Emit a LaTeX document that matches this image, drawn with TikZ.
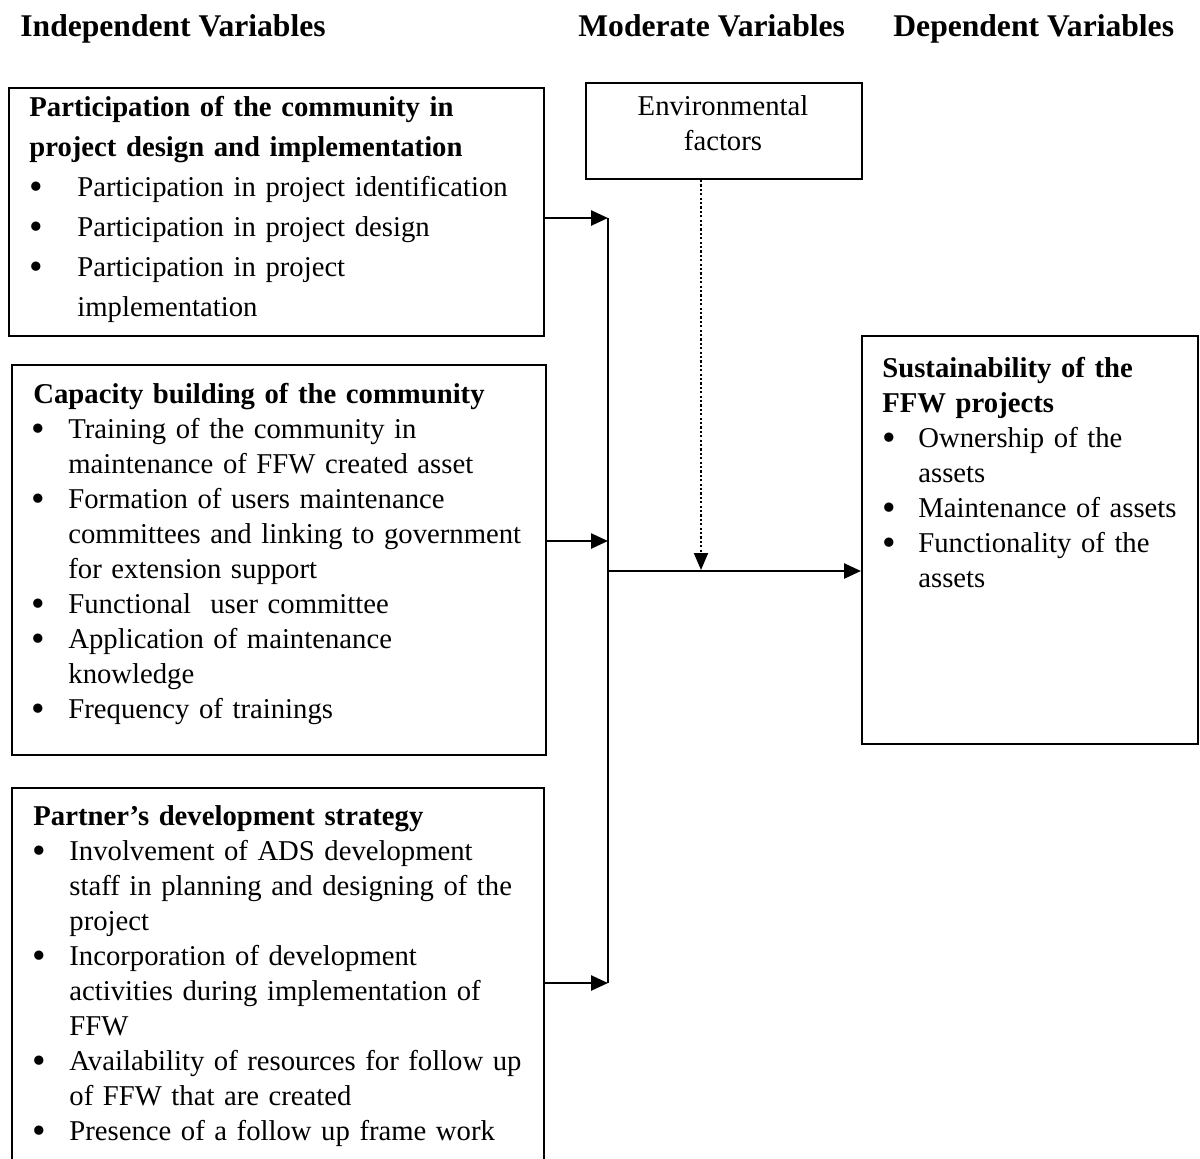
\documentclass[tikz,border=0pt]{standalone}
\usepackage{fontspec}
\usepackage{graphicx}
\setmainfont{Liberation Serif}
\usetikzlibrary{arrows.meta}
\newlength\hind
\newlength\boff
\newcommand\bigbul{\raisebox{-0.11em}{\scalebox{1.35}{\textbullet}}}
\newcommand\bul[1]{\par\hangindent=\hind\hangafter=1\noindent\makebox[\hind][l]{\hspace{\boff}\bigbul}#1}
\tikzset{
  bx/.style={draw, line width=1pt, inner sep=0pt, anchor=north west},
  txt/.style={inner sep=0pt, anchor=north west, align=left, text width=#1},
  body/.style={font=\fontsize{14.35pt}{17.5pt}\selectfont},
  bodywide/.style={font=\fontsize{14.35pt}{20pt}\selectfont},
  hdr/.style={inner sep=0pt, anchor=base west, font=\fontsize{15.8pt}{18pt}\selectfont\bfseries},
  arr/.style={line width=1.3pt, -{Triangle[length=8.5pt,width=7.5pt]}},
  spine/.style={line width=1pt},
  dots/.style={line width=1pt, dash pattern=on 1.1pt off 1.1pt, -{Triangle[length=8.5pt,width=7pt]}},
}
\begin{document}
\begin{tikzpicture}[x=0.5pt, y=-0.5pt]
\useasboundingbox (0,0) rectangle (1200,1158);

% column headings
\node[hdr] (h1) at (20,36) {Independent Variables};
\node[hdr] (h2) at (578,36) {Moderate Variables};
\node[hdr] (h3) at (893,36) {Dependent Variables};

% boxes
\node[bx, minimum width=267.5pt, minimum height=124pt] (box1) at (8,87) {};
\node[bx, minimum width=138pt, minimum height=48pt] (env) at (585,82) {};
\node[bx, minimum width=267pt, minimum height=195pt] (box2) at (11,364) {};
\node[bx, minimum width=266pt, minimum height=196pt] (box3) at (11,787) {};
\node[bx, minimum width=168pt, minimum height=204pt] (sust) at (861,335) {};

% box texts
\node[txt=262pt, bodywide] (t1) at (29,88) {\setlength\hind{24pt}\setlength\boff{0pt}\strut\textbf{Participation of the community in\newline project design and implementation}
\bul{Participation in project identification}
\bul{Participation in project design}
\bul{Participation in project\newline implementation}\par};

\node[txt=262pt, body] (t2) at (33,378.5) {\setlength\hind{17.5pt}\setlength\boff{-0.9pt}\strut\textbf{Capacity building of the community}
\bul{Training of the community in\newline maintenance of FFW created asset}
\bul{Formation of users maintenance\newline committees and linking to government\newline for extension support}
\bul{Functional\ \ user committee}
\bul{Application of maintenance\newline knowledge}
\bul{Frequency of trainings}\par};

\node[txt=262pt, body] (t3) at (33,800.5) {\setlength\hind{18pt}\setlength\boff{-0.4pt}\strut\textbf{Partner’s development strategy}
\bul{Involvement of ADS development\newline staff in planning and designing of the\newline project}
\bul{Incorporation of development\newline activities during implementation of\newline FFW}
\bul{Availability of resources for follow up\newline of FFW that are created}
\bul{Presence of a follow up frame work}\par};

\node[txt=160pt, body] (ts) at (882,352.5) {\setlength\hind{18pt}\setlength\boff{0pt}\strut\textbf{Sustainability of the\newline FFW projects}
\bul{Ownership of the\newline assets}
\bul{Maintenance of assets}
\bul{Functionality of the\newline assets}\par};

\node[inner sep=0pt, anchor=north, align=center, body] (te) at (723,90.5) {\strut Environmental\\ factors};

% junction coordinates
\coordinate (j1) at (608,218);
\coordinate (j2) at (608,541);
\coordinate (j3) at (608,983);
\coordinate (j4) at (608,571);
\coordinate (dm) at (701,570);

% connectors
\draw[spine] (j1) -- (j3);
\draw[arr] (box1.east |- j1) -- (j1);
\draw[arr] (box2.east |- j2) -- (j2);
\draw[arr] (box3.east |- j3) -- (j3);
\draw[arr] (j4) -- (sust.west |- j4);
\draw[dots] (env.south -| dm) -- (dm);
\end{tikzpicture}
\end{document}
